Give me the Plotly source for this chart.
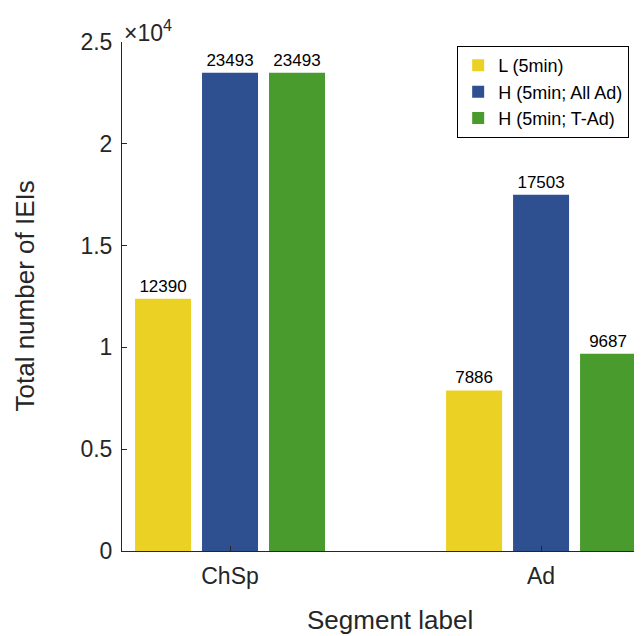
import plotly.graph_objects as go

categories = ["ChSp", "Ad"]
series_names = ["L (5min)", "H (5min; All Ad)", "H (5min; T-Ad)"]
values_L = [12390, 7886]
values_H_all = [23493, 17503]
values_H_t = [23493, 9687]
colors = ["#ECD125", "#2E5090", "#4A9B2E"]
y_tick_vals = [0, 5000, 10000, 15000, 20000, 25000]
y_tick_text = ["0", "0.5", "1", "1.5", "2", "2.5"]
x_title = "Segment label"
y_title = "Total number of IEIs"

font_family = "Liberation Sans, Arial, Helvetica, sans-serif"
fig = go.Figure()
for name, vals, col in zip(series_names, [values_L, values_H_all, values_H_t], colors):
    fig.add_trace(go.Bar(
        x=[1, 2], y=vals, name=name, marker=dict(color=col, line=dict(width=0)),
        text=[str(v) for v in vals], textposition="outside",
        textfont=dict(size=17, color="#000000", family=font_family),
        cliponaxis=False,
    ))

fig.update_layout(
    width=680, height=628,
    margin=dict(l=114, r=39, t=34, b=85),
    paper_bgcolor="white", plot_bgcolor="white",
    barmode="group", bargap=0.354, bargroupgap=0.164,
    font=dict(family=font_family, color="#262626"),
    showlegend=True,
    legend=dict(x=0.636, y=0.992, xanchor="left", yanchor="top",
                bordercolor="#000000", borderwidth=1, bgcolor="white",
                font=dict(size=18, color="#000000"), tracegroupgap=0,
                itemwidth=30),
    xaxis=dict(range=[0.6527, 2.347], tickvals=[1, 2], ticktext=categories,
               ticks="inside", ticklen=5, tickcolor="#262626",
               showline=True, linecolor="#262626", linewidth=1,
               showgrid=False, zeroline=False, automargin=False,
               ticklabelstandoff=4,
               tickfont=dict(size=23, color="#262626")),
    yaxis=dict(range=[0, 25000], tickvals=y_tick_vals, ticktext=y_tick_text,
               ticks="inside", ticklen=5, tickcolor="#262626",
               showline=True, linecolor="#262626", linewidth=1,
               showgrid=False, zeroline=False, automargin=False,
               ticklabelstandoff=4,
               tickfont=dict(size=23, color="#262626")),
    annotations=[
        dict(text="×10<sup>4</sup>", xref="paper", yref="paper", x=0, y=1,
             xanchor="left", yanchor="bottom", showarrow=False,
             font=dict(size=23, color="#262626"), xshift=0, yshift=-6),
        dict(text=x_title, xref="paper", yref="paper", x=0.5, y=0,
             xanchor="center", yanchor="middle", showarrow=False,
             font=dict(size=26, color="#262626"), xshift=4, yshift=-69),
        dict(text=y_title, xref="paper", yref="paper", x=0, y=0.5,
             xanchor="center", yanchor="middle", showarrow=False, textangle=-90,
             font=dict(size=26, color="#262626"), xshift=-98, yshift=0),
    ],
)
fig.write_html("out.html")
